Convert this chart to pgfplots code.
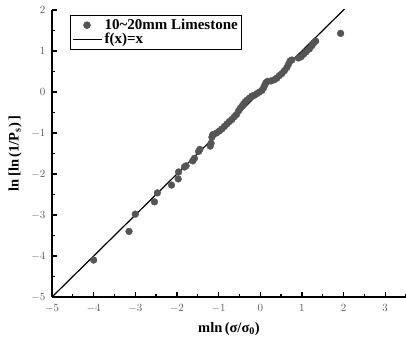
\documentclass[border=0pt]{standalone}
\usepackage{pgfplots}
\pgfplotsset{compat=1.18}
\usepackage{fontspec}
\setmainfont{Liberation Serif}
\definecolor{mk}{RGB}{85,85,85}
\begin{document}
\begin{tikzpicture}
\begin{axis}[
  name=ax,
  scale only axis,
  width=354pt, height=287pt,
  xmin=-5, xmax=3.5, ymin=-5, ymax=2,
  axis lines*=left,
  axis line style={line width=1.6pt},
  xtick={-5,-4,...,3}, ytick={-5,-4,...,2},
  minor xtick={-4.5,-3.5,...,3.5}, minor ytick={-4.5,-3.5,...,1.5},
  tick align=inside,
  major tick length=5pt, minor tick length=3pt,
  tick style={line width=1.3pt, black},
  ticklabel style={font=\fontsize{11}{13}\selectfont, text=black!65},
  xticklabel style={yshift=-4pt},
  yticklabel style={xshift=-3pt},
  xlabel={\textbf{mln\,(σ/σ\textsubscript{0})}},
  ylabel={\textbf{ln\,[ln\,(1/P\textsubscript{s})\,]}},
  label style={font=\fontsize{14.5}{16}\selectfont},
  xlabel style={yshift=-3pt},
  ylabel style={yshift=3pt},
  legend style={at={(0.051,0.983)}, anchor=north west, draw=black, line width=0.7pt,
    font=\bfseries\fontsize{15}{16}\selectfont, inner sep=2pt, row sep=-2pt, cells={anchor=west}},
  legend cell align=left,
  legend image code/.code={\draw[#1] (0pt,0pt) -- (29pt,0pt);},
  clip=true,
]
\addplot[only marks, mark=*, mark size=3.4pt, mk, mark options={draw=mk, fill=mk},
  legend image code/.code={\draw[mk, fill=mk] (14pt,0pt) circle (3.4pt);}] coordinates {
(-4.00,-4.10) (-3.15,-3.40) (-3.00,-2.98) (-2.54,-2.68) (-2.47,-2.46)
(-2.13,-2.27) (-1.97,-2.12) (-1.96,-1.95) (-1.82,-1.83) (-1.78,-1.80)
(-1.62,-1.68) (-1.58,-1.62) (-1.48,-1.45) (-1.45,-1.40) (-1.20,-1.32)
(-1.18,-1.25) (-1.16,-1.10) (-1.14,-1.04) (-1.05,-1.00) (-0.98,-0.95)
(-0.92,-0.90) (-0.86,-0.84) (-0.80,-0.78) (-0.74,-0.72) (-0.68,-0.67)
(-0.62,-0.60) (-0.57,-0.55) (-0.52,-0.46) (-0.48,-0.40) (-0.44,-0.35)
(-0.40,-0.29) (-0.36,-0.24) (-0.32,-0.20) (-0.26,-0.15) (-0.20,-0.10)
(-0.14,-0.08) (-0.08,-0.04) (-0.02,0.00) (0.04,0.04) (0.08,0.10)
(0.11,0.17) (0.14,0.23) (0.18,0.26) (0.26,0.27) (0.34,0.30)
(0.40,0.34) (0.46,0.40) (0.52,0.45) (0.58,0.52) (0.64,0.60)
(0.68,0.68) (0.72,0.76) (0.76,0.78) (0.92,0.83) (0.98,0.86)
(1.04,0.92) (1.10,0.98) (1.18,1.05) (1.24,1.13) (1.29,1.20)
(1.33,1.24) (1.93,1.43)
};
\addlegendentry{10\textasciitilde 20mm Limestone}
\addplot[black, line width=1.2pt] coordinates {(-5,-5) (2.5,2.5)};
\addlegendentry{f(x)=x}
\end{axis}
\pgfresetboundingbox
\path[use as bounding box] ([xshift=-52pt,yshift=-53pt]ax.south west) rectangle ([yshift=10pt]ax.north east);
\end{tikzpicture}
\end{document}
